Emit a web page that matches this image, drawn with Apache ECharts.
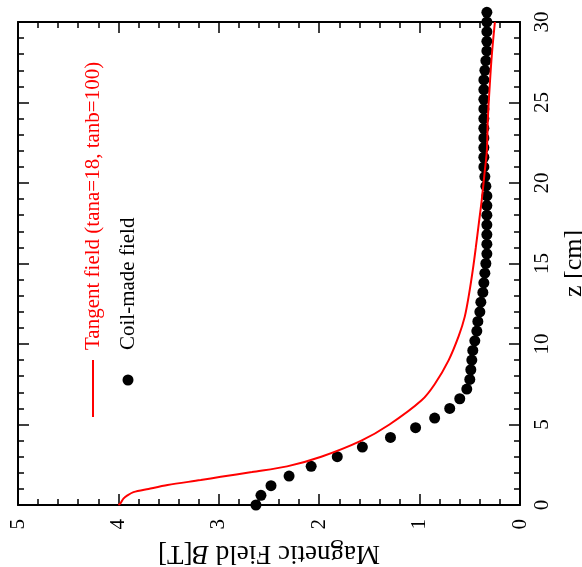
<!DOCTYPE html>
<html>
<head>
<meta charset="utf-8">
<script src="https://cdn.jsdelivr.net/npm/echarts@6/dist/echarts.min.js"></script>
<style>html,body{margin:0;padding:0;background:#fff}#c{width:582px;height:567px}</style>
</head>
<body>
<div id="c"></div>
<script>
// Coil-made field: z [cm] and B [T]
var coilZ = [0,0.6,1.2,1.8,2.4,3.0,3.6,4.2,4.8,5.4,6.0,6.6,7.2,7.8,8.4,9.0,9.6,10.2,10.8,11.4,12.0,12.6,13.2,13.8,14.4,15.0,15.6,16.2,16.8,17.4,18.0,18.6,19.2,19.8,20.4,21.0,21.6,22.2,22.8,23.4,24.0,24.6,25.2,25.8,26.4,27.0,27.6,28.2,28.8,29.4,30.0,30.6];
var coilB = [2.63,2.58,2.48,2.30,2.08,1.82,1.57,1.29,1.04,0.85,0.70,0.60,0.53,0.50,0.49,0.48,0.47,0.45,0.43,0.42,0.40,0.39,0.37,0.36,0.35,0.34,0.33,0.33,0.33,0.33,0.33,0.33,0.33,0.34,0.35,0.36,0.36,0.36,0.36,0.36,0.36,0.36,0.36,0.36,0.36,0.35,0.34,0.33,0.33,0.33,0.33,0.33];
// Tangent field (tana=18, tanb=100)
var tanZ = [0,0.1,0.2,0.4,0.6,0.8,1.0,1.24,1.55,1.75,2.05,2.4,3.0,4.0,5.0,6.5,7.5,9.0,10.5,11.7,13.0,14.6,16.0,17.5,19.0,20.8,22.0,24.0,26.2,28.0,30.0];
var tanB = [4.00,3.98,3.97,3.95,3.91,3.85,3.70,3.51,3.18,2.98,2.67,2.32,1.98,1.58,1.30,0.98,0.85,0.71,0.61,0.55,0.51,0.47,0.44,0.41,0.38,0.35,0.33,0.32,0.30,0.28,0.25];
var bTicks = [0,1,2,3,4,5];
var zTicks = [0,5,10,15,20,25,30];

var font = 'Liberation Serif';
function pairs(xs, ys){ return xs.map(function(v,i){ return [v, ys[i]]; }); }

var chart = echarts.init(document.getElementById('c'), null, {renderer:'canvas'});
var lineStyleAxis = {color:'#000', width:2};
var tick = {show:true, inside:true, length:11, lineStyle:{color:'#000', width:1.5}};
var minor = {show:true, splitNumber:5, length:6, lineStyle:{color:'#000', width:1.5}};
chart.setOption({
  animation:false,
  backgroundColor:'#fff',
  grid:{left:18, right:62, top:22, bottom:62, containLabel:false, outerBoundsMode:'none'},
  xAxis:[{
    type:'value', min:0, max:5, interval:1, inverse:true, position:'bottom',
    axisLine:{show:true, onZero:false, lineStyle:lineStyleAxis},
    axisTick:tick, minorTick:minor, splitLine:{show:false},
    axisLabel:{rotate:90, margin:14, fontFamily:font, fontSize:21, color:'#000'},
    name:'{a|Magnetic Field }{b|B}{a|[T]}', nameLocation:'middle', nameGap:35, nameRotate:180,
    nameTextStyle:{fontFamily:font, fontSize:27, color:'#000',
      rich:{a:{fontFamily:font, fontSize:27, color:'#000'}, b:{fontFamily:font, fontSize:27, fontStyle:'italic', color:'#000'}}}
  },{
    type:'value', min:0, max:5, interval:1, inverse:true, position:'top',
    axisLine:{show:true, onZero:false, lineStyle:lineStyleAxis},
    axisTick:tick, minorTick:minor, splitLine:{show:false}, axisLabel:{show:false}
  }],
  yAxis:[{
    type:'value', min:0, max:30, interval:5, position:'right',
    axisLine:{show:true, onZero:false, lineStyle:lineStyleAxis},
    axisTick:tick, minorTick:minor, splitLine:{show:false},
    axisLabel:{rotate:90, margin:12, fontFamily:font, fontSize:21, color:'#000'},
    name:'z [cm]', nameLocation:'middle', nameGap:34, nameRotate:90,
    nameTextStyle:{fontFamily:font, fontSize:26, color:'#000'}
  },{
    type:'value', min:0, max:30, interval:5, position:'left',
    axisLine:{show:true, onZero:false, lineStyle:lineStyleAxis},
    axisTick:tick, minorTick:minor, splitLine:{show:false}, axisLabel:{show:false}
  }],
  series:[{
    name:'Tangent field (tana=18, tanb=100)', type:'line', xAxisIndex:0, yAxisIndex:0,
    data:pairs(tanB, tanZ), showSymbol:false, smooth:0.3,
    lineStyle:{color:'#ff0000', width:2}, itemStyle:{color:'#ff0000'}, z:3
  },{
    name:'Coil-made field', type:'scatter', xAxisIndex:0, yAxisIndex:0,
    data:pairs(coilB, coilZ), symbol:'circle', symbolSize:11, clip:false,
    itemStyle:{color:'#000', opacity:1}, z:2
  }],
  graphic:[
    {type:'line', shape:{x1:93, y1:417, x2:93, y2:360}, style:{stroke:'#ff0000', lineWidth:2}},
    {type:'text', x:93, y:350, rotation:Math.PI/2,
      style:{text:'Tangent field (tana=18, tanb=100)', fill:'#ff0000', font:'21px "Liberation Serif"', textAlign:'left', textVerticalAlign:'middle'}},
    {type:'circle', shape:{cx:128, cy:380, r:5.5}, style:{fill:'#000'}},
    {type:'text', x:128, y:350, rotation:Math.PI/2,
      style:{text:'Coil-made field', fill:'#000', font:'21px "Liberation Serif"', textAlign:'left', textVerticalAlign:'middle'}}
  ]
});
</script>
</body>
</html>
